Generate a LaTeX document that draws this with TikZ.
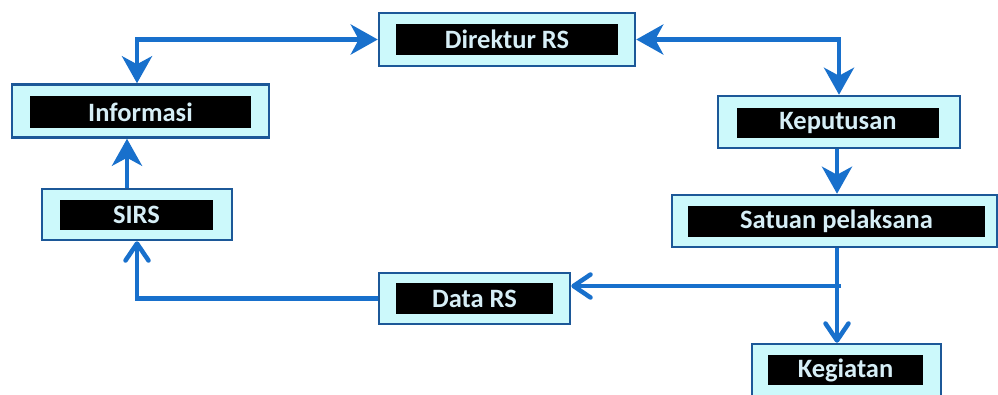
\documentclass[tikz,border=0pt]{standalone}
\usepackage{fontspec}
\setmainfont{Carlito}
\usetikzlibrary{arrows.meta}
\definecolor{flowblue}{RGB}{24,112,204}
\definecolor{frameblue}{RGB}{28,88,152}
\definecolor{boxfill}{RGB}{204,249,251}
\definecolor{labeltext}{RGB}{214,238,246}
\tikzset{
  outerbox/.style={draw=frameblue, line width=2.5pt, fill=boxfill, inner sep=0pt},
  labelbar/.style={fill=black, inner sep=0pt, text=labeltext,
    font=\fontsize{26.5}{30}\selectfont\bfseries},
  flow/.style={draw=flowblue, line width=4.5pt},
  sharp/.style={flow, -{Stealth[length=27pt, width=30pt, inset=8pt]}},
  twosharp/.style={flow, {Stealth[length=27pt, width=30pt, inset=8pt]}-{Stealth[length=27pt, width=30pt, inset=8pt]}},
  barb/.style={flow, -{Straight Barb[length=17pt, width=23pt, round]}}
}
\begin{document}
\begin{tikzpicture}[x=1pt, y=-1pt]
  \useasboundingbox (0,0) rectangle (998,394);
  \clip (0,0) rectangle (998,394);
  \fill[white] (0,0) rectangle (998,394);

  % outer frames
  \node[outerbox, minimum width=256pt, minimum height=53pt] (dir)  at (507,39.5) {};
  \node[outerbox, minimum width=257pt, minimum height=53pt] (info) at (140.5,111) {};
  \node[outerbox, minimum width=242pt, minimum height=52pt] (kep)  at (839,122) {};
  \node[outerbox, minimum width=190pt, minimum height=51pt] (sirs) at (137,214.5) {};
  \node[outerbox, minimum width=325pt, minimum height=52pt] (sat)  at (834.5,221) {};
  \node[outerbox, minimum width=191pt, minimum height=51pt] (data) at (474.5,298.5) {};
  \node[outerbox, minimum width=189pt, minimum height=60pt] (keg)  at (846.5,374) {};

  % black label bars
  \node[labelbar, minimum width=222pt, minimum height=31pt] (dirT)  at (507,39.5)   {Direktur RS};
  \node[labelbar, minimum width=221pt, minimum height=32pt] (infoT) at (140.5,112)  {Informasi};
  \node[labelbar, minimum width=202pt, minimum height=30pt] (kepT)  at (838,123)    {Keputusan};
  \node[labelbar, minimum width=153pt, minimum height=30pt] (sirsT) at (136.5,215)  {SIRS};
  \node[labelbar, minimum width=297pt, minimum height=31pt] (satT)  at (836.5,221.5){Satuan pelaksana};
  \node[labelbar, minimum width=157pt, minimum height=31pt] (dataT) at (474.5,298.5){Data RS};
  \node[labelbar, minimum width=155pt, minimum height=30pt] (kegT)  at (845.5,370)  {Kegiatan};

  % connectors
  \draw[twosharp] (dir.west) -| ([xshift=-3.5pt]info.north);
  \draw[twosharp] (dir.east) -| (kep.north);
  \draw[sharp] ([xshift=-2pt]kep.south) -- ([xshift=-2pt]kep.south |- sat.north);
  \draw[barb] ([xshift=-2pt]kep.south |- sat.south) -- ([xshift=-2pt]kep.south |- keg.north);
  \coordinate (fork) at (841,286);
  \draw[barb] (fork) -- (fork -| data.east);
  \draw[barb] (data.west) -| (sirs.south);
  \draw[sharp] ([xshift=-10pt]sirs.north) -- ([xshift=-10pt]sirs.north |- info.south);
\end{tikzpicture}
\end{document}
